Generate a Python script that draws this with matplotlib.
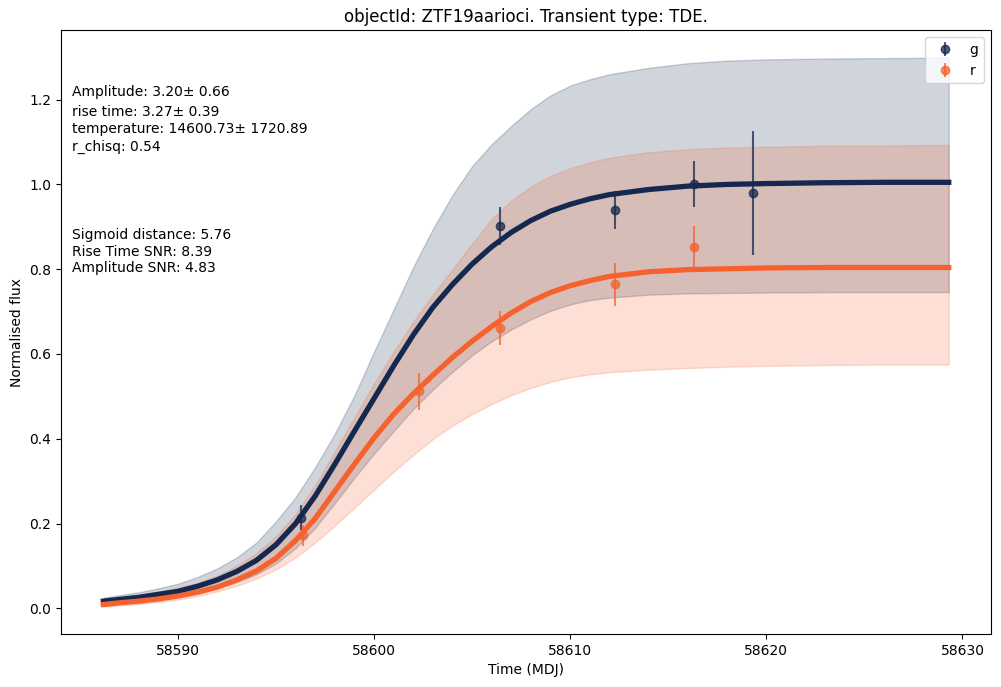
import numpy as np
import matplotlib
matplotlib.use('Agg')
import matplotlib.pyplot as plt

# observed points
g_time = [58596.3, 58606.4, 58612.3, 58616.3, 58619.3]
g_flux = [0.214, 0.902, 0.940, 1.001, 0.980]
g_err = [0.030, 0.045, 0.045, 0.054, 0.147]

r_time = [58596.4, 58602.3, 58606.4, 58612.3, 58616.3]
r_flux = [0.172, 0.512, 0.662, 0.764, 0.853]
r_err = [0.025, 0.044, 0.040, 0.050, 0.050]

# fitted curves and bands
t_fit = [58586.2, 58587, 58588, 58589, 58590, 58591, 58592, 58593, 58594, 58595,
         58596, 58597, 58598, 58599, 58600, 58601, 58602, 58603, 58604, 58605,
         58606, 58607, 58608, 58609, 58610, 58611, 58612, 58614, 58616, 58618,
         58620, 58623, 58626, 58629.3]

g_fit = [0.017, 0.021, 0.026, 0.033, 0.040, 0.052, 0.067, 0.087, 0.113, 0.150,
         0.200, 0.265, 0.340, 0.418, 0.495, 0.572, 0.645, 0.710, 0.764, 0.812,
         0.853, 0.887, 0.915, 0.937, 0.953, 0.966, 0.976, 0.988, 0.996, 1.000,
         1.002, 1.004, 1.005, 1.005]
g_up = [0.025, 0.031, 0.038, 0.047, 0.058, 0.074, 0.094, 0.120, 0.155, 0.205,
        0.262, 0.333, 0.412, 0.502, 0.605, 0.705, 0.805, 0.895, 0.975, 1.043,
        1.095, 1.138, 1.178, 1.210, 1.233, 1.248, 1.260, 1.275, 1.286, 1.292,
        1.295, 1.297, 1.298, 1.299]
g_lo = [0.012, 0.015, 0.019, 0.024, 0.030, 0.037, 0.048, 0.062, 0.080, 0.106,
        0.142, 0.190, 0.248, 0.308, 0.365, 0.418, 0.470, 0.516, 0.558, 0.597,
        0.630, 0.658, 0.682, 0.702, 0.717, 0.727, 0.733, 0.740, 0.743, 0.744,
        0.745, 0.746, 0.746, 0.746]

r_fit = [0.009, 0.013, 0.017, 0.022, 0.029, 0.038, 0.050, 0.067, 0.088, 0.118,
         0.160, 0.212, 0.276, 0.340, 0.402, 0.458, 0.506, 0.550, 0.592, 0.630,
         0.665, 0.697, 0.724, 0.745, 0.761, 0.773, 0.783, 0.794, 0.799, 0.801,
         0.803, 0.804, 0.804, 0.804]
r_up = [0.020, 0.025, 0.031, 0.039, 0.049, 0.060, 0.077, 0.100, 0.130, 0.170,
        0.222, 0.290, 0.370, 0.450, 0.530, 0.605, 0.676, 0.740, 0.800, 0.860,
        0.918, 0.962, 0.995, 1.020, 1.038, 1.052, 1.063, 1.076, 1.083, 1.087,
        1.089, 1.091, 1.092, 1.093]
r_lo = [0.004, 0.007, 0.010, 0.015, 0.021, 0.029, 0.040, 0.053, 0.070, 0.092,
        0.120, 0.155, 0.195, 0.237, 0.280, 0.322, 0.362, 0.399, 0.431, 0.458,
        0.482, 0.503, 0.520, 0.534, 0.545, 0.552, 0.557, 0.563, 0.567, 0.570,
        0.572, 0.574, 0.575, 0.575]

g_col = '#15284F'
r_col = '#F5622E'

fig = plt.figure(figsize=(10.01, 6.87), dpi=100)
ax = fig.add_axes([0.061, 0.077, 0.929, 0.879])

ax.errorbar(g_time, g_flux, yerr=g_err, fmt='o', color=g_col, alpha=0.75, label='g')
ax.errorbar(r_time, r_flux, yerr=r_err, fmt='o', color=r_col, alpha=0.75, label='r')

ax.fill_between(t_fit, g_lo, g_up, color=g_col, alpha=0.2)
ax.fill_between(t_fit, r_lo, r_up, color=r_col, alpha=0.2)
ax.plot(t_fit, g_fit, color=g_col, lw=3.8)
ax.plot(t_fit, r_fit, color=r_col, lw=3.8)

tx = 0.0118
ax.text(tx, 0.891, 'Amplitude: 3.20± 0.66', transform=ax.transAxes, va='baseline')
ax.text(tx, 0.8576, 'rise time: 3.27± 0.39', transform=ax.transAxes, va='baseline')
ax.text(tx, 0.830, 'temperature: 14600.73± 1720.89', transform=ax.transAxes, va='baseline')
ax.text(tx, 0.801, 'r_chisq: 0.54', transform=ax.transAxes, va='baseline')
ax.text(tx, 0.6535, 'Sigmoid distance: 5.76', transform=ax.transAxes, va='baseline')
ax.text(tx, 0.6263, 'Rise Time SNR: 8.39', transform=ax.transAxes, va='baseline')
ax.text(tx, 0.5993, 'Amplitude SNR: 4.83', transform=ax.transAxes, va='baseline')

ax.set_title('objectId: ZTF19aarioci. Transient type: TDE.')
ax.set_xlabel('Time (MDJ)')
ax.set_ylabel('Normalised flux')
ax.legend(loc='upper right')

fig.savefig('out.png', dpi=100)
